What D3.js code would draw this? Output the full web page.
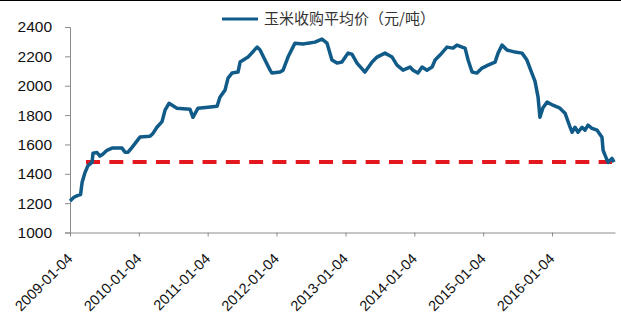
<!DOCTYPE html>
<html>
<head>
<meta charset="utf-8">
<script src="https://cdn.jsdelivr.net/npm/d3@7"></script>
<style>
  html, body { margin: 0; padding: 0; background: #fff; }
  svg { display: block; }
</style>
</head>
<body>
<div id="chart"></div>
<script>
// weekly corn purchase average price
const dates = [
  '2009-01-04', '2009-01-25', '2009-02-15', '2009-03-01', '2009-03-09', '2009-03-25', '2009-04-09', '2009-05-01',
  '2009-05-06', '2009-05-27', '2009-06-12', '2009-06-28', '2009-07-19', '2009-08-15', '2009-10-07', '2009-10-23',
  '2009-11-08', '2009-11-29', '2010-01-10', '2010-03-04', '2010-03-20', '2010-04-10', '2010-05-07', '2010-05-23',
  '2010-06-13', '2010-07-25', '2010-10-02', '2010-10-18', '2010-11-14', '2011-01-06', '2011-02-23', '2011-03-10',
  '2011-04-06', '2011-04-22', '2011-05-13', '2011-06-14', '2011-06-25', '2011-08-06', '2011-09-23', '2011-10-09',
  '2011-11-04', '2011-12-01', '2011-12-11', '2012-01-23', '2012-02-08', '2012-03-05', '2012-04-11', '2012-05-24',
  '2012-06-19', '2012-07-26', '2012-09-01', '2012-09-28', '2012-10-24', '2012-11-20', '2012-12-16', '2013-01-17',
  '2013-02-07', '2013-03-06', '2013-04-17', '2013-05-25', '2013-06-20', '2013-08-01', '2013-09-08', '2013-10-04',
  '2013-11-05', '2013-12-12', '2013-12-28', '2014-01-23', '2014-02-14', '2014-03-12', '2014-04-08', '2014-04-24',
  '2014-05-20', '2014-06-26', '2014-07-28', '2014-08-18', '2014-09-14', '2014-09-30', '2014-10-16', '2014-11-06',
  '2014-12-02', '2014-12-29', '2015-01-30', '2015-03-08', '2015-03-24', '2015-04-14', '2015-05-10', '2015-06-22',
  '2015-07-29', '2015-08-24', '2015-09-09', '2015-10-06', '2015-10-22', '2015-11-01', '2015-11-17', '2015-12-09',
  '2016-01-09', '2016-02-15', '2016-03-13', '2016-04-09', '2016-04-19', '2016-05-05', '2016-05-21', '2016-06-11',
  '2016-06-27', '2016-07-13', '2016-08-03', '2016-08-30', '2016-09-25', '2016-10-01', '2016-10-16', '2016-10-27',
  '2016-11-17', '2016-11-28'
];
const prices = [
  1215, 1240, 1253, 1258, 1340, 1410, 1455, 1478,
  1540, 1545, 1520, 1535, 1560, 1575, 1575, 1547,
  1547, 1580, 1650, 1655, 1675, 1717, 1755, 1833,
  1880, 1847, 1840, 1785, 1847, 1854, 1860, 1922,
  1970, 2052, 2086, 2093, 2161, 2195, 2263, 2243,
  2175, 2106, 2086, 2093, 2106, 2195, 2290, 2284,
  2290, 2297, 2318, 2290, 2175, 2154, 2161, 2222,
  2215, 2154, 2093, 2161, 2195, 2222, 2195, 2140,
  2106, 2127, 2106, 2086, 2127, 2106, 2127, 2175,
  2209, 2263, 2256, 2277, 2263, 2256, 2175, 2093,
  2086, 2120, 2140, 2161, 2222, 2277, 2243, 2229,
  2222, 2175, 2120, 2030, 1922, 1785, 1850, 1888,
  1867, 1847, 1813, 1717, 1683, 1717, 1683, 1717,
  1697, 1731, 1710, 1697, 1649, 1560, 1512, 1478,
  1505, 1480
];

// reference level (red dashed line)
const refDates = ['2009-03-30', '2016-11-17'];
const refValue = 1480;

const yTicks = [1000, 1200, 1400, 1600, 1800, 2000, 2200, 2400];
const xTickLabels = ['2009-01-04', '2010-01-04', '2011-01-04', '2012-01-04',
  '2013-01-04', '2014-01-04', '2015-01-04', '2016-01-04'];
const seriesName = '玉米收购平均价（元/吨）';

const w = 621;
const h = 324;
const margin = { top: 27, right: 6, bottom: 91.5, left: 70 };

const parse = d3.timeParse('%Y-%m-%d');
const data = dates.map((d, i) => ({ date: parse(d), value: prices[i] }));

const svg = d3.select('#chart')
  .append('svg')
  .attr('width', w)
  .attr('height', h);

// thin frame line along the top edge
svg.append('line')
  .attr('x1', 0).attr('x2', w)
  .attr('y1', 0.5).attr('y2', 0.5)
  .attr('stroke', '#000');

const x = d3.scaleTime()
  .domain([parse('2009-01-04'), parse('2016-12-03')])
  .range([margin.left, w - margin.right]);

const y = d3.scaleLinear()
  .domain([1000, 2400])
  .range([h - margin.bottom, margin.top]);

// y axis
const yAxis = svg.append('g')
  .attr('transform', `translate(${margin.left},0)`)
  .call(d3.axisLeft(y).tickValues(yTicks).tickSize(5).tickPadding(13).tickFormat(d3.format('d')));
yAxis.select('.domain').attr('stroke', '#8c8c8c');
yAxis.selectAll('.tick line').attr('stroke', '#8c8c8c');
yAxis.selectAll('.tick text')
  .attr('fill', '#111')
  .style('font-family', '"Liberation Sans", Arial, sans-serif')
  .style('font-size', '15.5px');

// x axis
const xAxis = svg.append('g')
  .attr('transform', `translate(0,${h - margin.bottom})`)
  .call(d3.axisBottom(x).tickValues(xTickLabels.map(parse)).tickSize(4).tickSizeOuter(0).tickFormat(d3.timeFormat('%Y-%m-%d')));
xAxis.select('.domain').attr('stroke', '#8c8c8c');
xAxis.selectAll('.tick line').attr('stroke', '#8c8c8c');
xAxis.selectAll('.tick text')
  .attr('fill', '#111')
  .attr('text-anchor', 'end')
  .attr('dy', 0)
  .attr('y', 0)
  .attr('transform', 'translate(3,27) rotate(-45)')
  .style('font-family', '"Liberation Sans", Arial, sans-serif')
  .style('font-size', '14.5px');

// red dashed reference line
svg.append('line')
  .attr('x1', x(parse(refDates[0])))
  .attr('x2', x(parse(refDates[1])))
  .attr('y1', y(refValue))
  .attr('y2', y(refValue))
  .attr('stroke', '#e3171e')
  .attr('stroke-width', 4)
  .attr('stroke-dasharray', '14,9.3');

// price line
const line = d3.line()
  .x(d => x(d.date))
  .y(d => y(d.value));

svg.append('path')
  .datum(data)
  .attr('fill', 'none')
  .attr('stroke', '#115b89')
  .attr('stroke-width', 3.5)
  .attr('stroke-linejoin', 'round')
  .attr('d', line);

// legend
const legend = svg.append('g').attr('transform', 'translate(222,19)');
legend.append('line')
  .attr('x1', 0).attr('x2', 36)
  .attr('stroke', '#115b89')
  .attr('stroke-width', 3);
legend.append('text')
  .attr('x', 42)
  .attr('dy', '0.36em')
  .attr('fill', '#333')
  .style('font-family', '"Noto Sans CJK SC", sans-serif')
  .style('font-size', '15px')
  .text(seriesName);
</script>
</body>
</html>
